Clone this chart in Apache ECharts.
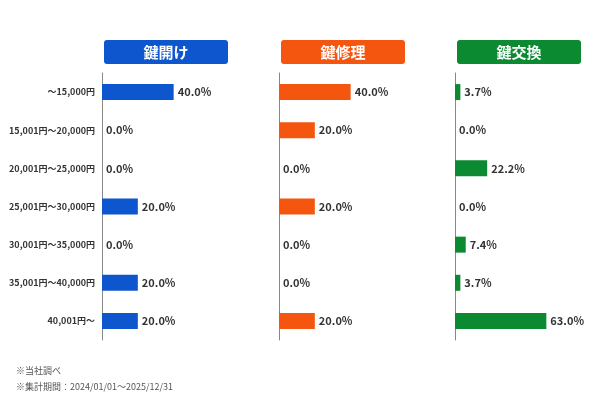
<!DOCTYPE html>
<html>
<head>
<meta charset="utf-8">
<script src="https://cdn.jsdelivr.net/npm/echarts@6/dist/echarts.min.js"></script>
<style>
html, body { margin: 0; padding: 0; background: #fff; }
#main { width: 600px; height: 400px; }
</style>
</head>
<body>
<div id="main"></div>
<script>
var categories = ['～15,000円', '15,001円～20,000円', '20,001円～25,000円', '25,001円～30,000円',
    '30,001円～35,000円', '35,001円～40,000円', '40,001円～'];
var groupNames = ['鍵開け', '鍵修理', '鍵交換'];
var kagiakeData = [40.0, 0.0, 0.0, 20.0, 0.0, 20.0, 20.0];
var shuriData = [40.0, 20.0, 0.0, 20.0, 0.0, 0.0, 20.0];
var koukanData = [3.7, 0.0, 22.2, 0.0, 7.4, 3.7, 63.0];
var notes = ['※当社調べ', '※集計期間：2024/01/01～2025/12/31'];

var colors = ['#0e56cd', '#f4560f', '#0b8a31'];
var allData = [kagiakeData, shuriData, koukanData];
var axisMax = [81.5, 81.5, 100];
var lefts = [102, 279, 455];
var font = '"Noto Sans CJK JP", "Noto Sans", sans-serif';

var myChart = echarts.init(document.getElementById('main'));

var grids = [], xAxes = [], yAxes = [], series = [], graphics = [];
for (var i = 0; i < 3; i++) {
    grids.push({ left: lefts[i], top: 73, width: 146, height: 267 });
    xAxes.push({
        type: 'value', gridIndex: i, min: 0, max: axisMax[i],
        show: false, splitLine: { show: false }
    });
    yAxes.push({
        type: 'category', gridIndex: i, data: categories, inverse: true,
        axisLine: { show: true, lineStyle: { color: '#888', width: 1 } },
        axisTick: { show: false },
        axisLabel: {
            show: i == 0, fontSize: 9, fontWeight: 'bold', color: '#333',
            fontFamily: font, margin: 7
        }
    });
    series.push({
        type: 'bar', xAxisIndex: i, yAxisIndex: i,
        data: allData[i], barWidth: 16,
        itemStyle: { color: colors[i] },
        label: {
            show: true, position: 'right', distance: 4,
            fontSize: 11, fontWeight: 'bold', color: '#333', fontFamily: font,
            formatter: function (p) { return p.value.toFixed(1) + '%'; }
        }
    });
    // 見出しボックス
    graphics.push({
        type: 'rect', left: lefts[i] + 2, top: 40, z: 10,
        shape: { width: 124, height: 24, r: 3 },
        style: { fill: colors[i] }
    });
    graphics.push({
        type: 'text', x: lefts[i] + 64, y: 52, z: 11,
        style: {
            text: groupNames[i], fill: '#fff', fontSize: 15, fontWeight: 'bold',
            fontFamily: font, align: 'center', verticalAlign: 'middle'
        }
    });
}
graphics.push({
    type: 'text', left: 16, top: 366,
    style: { text: notes[0], fill: '#555', fontSize: 9, fontFamily: font }
});
graphics.push({
    type: 'text', left: 16, top: 382,
    style: { text: notes[1], fill: '#555', fontSize: 9, fontFamily: font }
});

var option = {
    backgroundColor: '#fff',
    animation: false,
    grid: grids,
    xAxis: xAxes,
    yAxis: yAxes,
    series: series,
    graphic: graphics
};
myChart.setOption(option);
</script>
</body>
</html>
